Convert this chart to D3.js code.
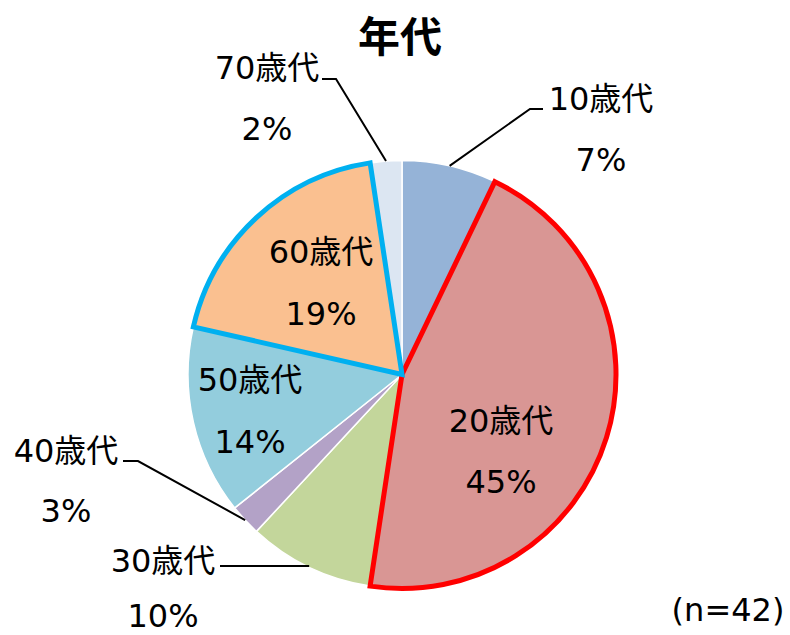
<!DOCTYPE html>
<html><head><meta charset="utf-8">
<script src="https://cdn.jsdelivr.net/npm/d3@7"></script>
<style>body{margin:0;background:#fff}svg{display:block}</style>
</head><body><svg id="c" width="790" height="635"></svg>
<script>
const categories = ["10歳代","20歳代","30歳代","40歳代","50歳代","60歳代","70歳代"];
const counts = [3,19,4,1,6,8,1];
const pctLabels = ["7%","45%","10%","3%","14%","19%","2%"];
const colors = ["#95B3D7","#D99694","#C3D69B","#B3A2C7","#93CDDD","#FAC090","#DCE6F2"];
const title = "年代";
const note = "(n=42)";

const W=790,H=635, cx=402, cy=374.5, R=214;
const font = "'DejaVu Sans','Noto Sans CJK JP',sans-serif";
const svg = d3.select("#c");

const pie = d3.pie().sort(null).value(d=>d)(counts);
const arc = d3.arc().innerRadius(0).outerRadius(R);
const g = svg.append("g").attr("transform",`translate(${cx},${cy})`);

const highlight = {1:"#FF0000",5:"#00B0F0"};
g.selectAll("path.s").data(pie).join("path").attr("class","s")
  .attr("d",arc).attr("fill",(d,i)=>colors[i])
  .attr("stroke","#fff").attr("stroke-width",1.5);
g.selectAll("path.h").data(pie.filter((d,i)=>highlight[i])).join("path").attr("class","h")
  .attr("d",arc).attr("fill","none")
  .attr("stroke",d=>highlight[d.index]).attr("stroke-width",5).attr("stroke-linejoin","miter");

const layout = [
  {x:601,y1:110,y2:171,lead:[[543,109],[530,109]]},
  {x:501,y1:432,y2:493},
  {x:163,y1:572,y2:627,lead:[[220,566],[311,566]],noElbow:true},
  {x:66,y1:462,y2:522,lead:[[123,461],[138,461]]},
  {x:250,y1:391,y2:453},
  {x:321,y1:263,y2:325},
  {x:267,y1:79,y2:140,lead:[[322,79],[336,79]]}
];

const lineG = svg.append("g");
pie.forEach((d,i)=>{
  const L = layout[i];
  if(L.lead){
    const a = (d.startAngle+d.endAngle)/2;
    const px = cx + R*Math.sin(a), py = cy - R*Math.cos(a);
    let pts = L.noElbow ? [L.lead[0],[px,L.lead[1][1]]] : [L.lead[0],L.lead[1],[px,py]];
    lineG.append("path").attr("d",d3.line()(pts)).attr("fill","none")
      .attr("stroke","#000").attr("stroke-width",2);
  }
  const t = svg.append("g").attr("font-family",font).attr("font-size",32).attr("fill","#000").attr("text-anchor","middle");
  t.append("text").attr("x",L.x).attr("y",L.y1).text(categories[i]);
  t.append("text").attr("x",L.x).attr("y",L.y2).text(pctLabels[i]);
});

svg.append("text").attr("x",400).attr("y",52).attr("text-anchor","middle")
  .attr("font-family","'Noto Sans CJK JP',sans-serif").attr("font-weight","bold").attr("font-size",42).text(title);
svg.append("text").attr("x",728).attr("y",621).attr("text-anchor","middle")
  .attr("font-family",font).attr("font-size",32).text(note);
</script></body></html>
